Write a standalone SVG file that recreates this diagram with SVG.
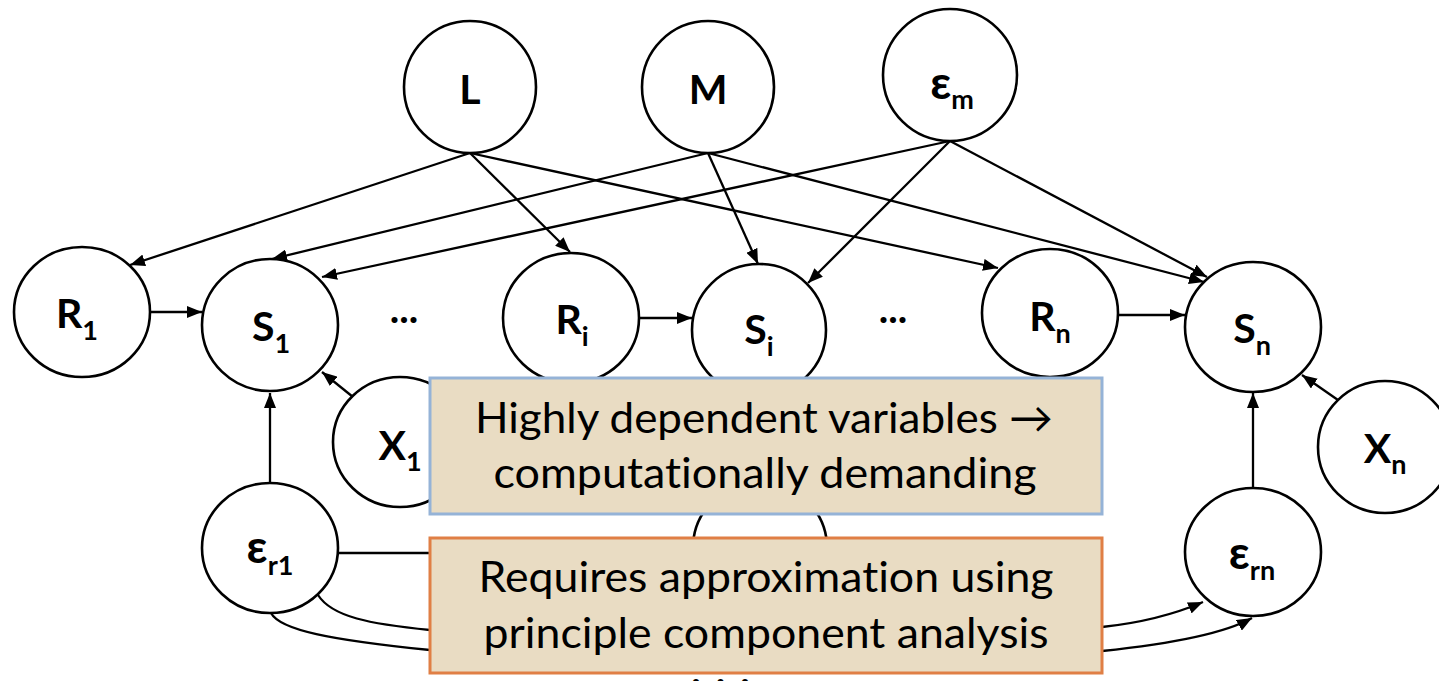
<svg xmlns="http://www.w3.org/2000/svg" width="1439" height="681" viewBox="0 0 1439 681">
  <style>
    .node ellipse { fill: #ffffff; stroke: #000000; stroke-width: 2.6; }
    .lbl { font-family: Lato, "Noto Sans", "DejaVu Sans", sans-serif; font-weight: 700; font-size: 41px; fill: #000000; text-anchor: middle; }
    .sub { font-size: 27px; }
    .eps { font-size: 46px; }
    .edge { fill: none; stroke: #000000; stroke-width: 2.3; }
    .arr { marker-end: url(#ah); }
    .box { fill: #E9DCC3; stroke-width: 3; }
    .boxtxt { font-family: Lato, "Noto Sans", "DejaVu Sans", sans-serif; font-size: 43px; fill: #000000; text-anchor: middle; font-variant-ligatures: none; }
    .dots { font-family: Lato, "Noto Sans", "DejaVu Sans", sans-serif; font-weight: 700; font-size: 40px; fill: #000000; }
  </style>
  <defs>
    <marker id="ah" markerWidth="15" markerHeight="12" refX="15" refY="6" orient="auto" markerUnits="userSpaceOnUse">
      <path d="M0,0 L15,6 L0,12 z" fill="#000000"/>
    </marker>
  </defs>

  <rect width="1439" height="681" fill="#ffffff"/>

  <!-- connectors -->
  <g id="connectors">
    <line class="edge arr" x1="470" y1="153" x2="130" y2="265"/>
    <line class="edge arr" x1="470" y1="153" x2="570" y2="252"/>
    <line class="edge arr" x1="470" y1="153" x2="998" y2="268"/>
    <line class="edge arr" x1="708" y1="153" x2="272" y2="259"/>
    <line class="edge arr" x1="708" y1="153" x2="758" y2="264"/>
    <line class="edge arr" x1="708" y1="153" x2="1204" y2="282"/>
    <line class="edge arr" x1="950" y1="141" x2="322" y2="277"/>
    <line class="edge arr" x1="950" y1="141" x2="808" y2="283"/>
    <line class="edge arr" x1="950" y1="141" x2="1207" y2="277"/>
    <line class="edge arr" x1="150" y1="312" x2="202" y2="312"/>
    <line class="edge arr" x1="639" y1="318" x2="692" y2="318"/>
    <line class="edge arr" x1="1118" y1="315" x2="1185" y2="315"/>
    <line class="edge arr" x1="353" y1="397" x2="322" y2="372"/>
    <line class="edge arr" x1="1338" y1="400" x2="1302" y2="375"/>
    <line class="edge arr" x1="270" y1="483" x2="270" y2="393"/>
    <line class="edge arr" x1="1253" y1="488" x2="1253" y2="393"/>
    <line class="edge arr" x1="338" y1="553" x2="693" y2="553"/>
    <path class="edge arr" d="M318,595 C332,617 370,624 430,630 C600,648 930,645 1102,627 C1140,623 1175,614 1203,602"/>
    <path class="edge arr" d="M271,613 C280,630 330,640 430,650 C600,668 930,668 1102,651 C1160,645 1220,636 1252,618"/>
  </g>

  <!-- top row -->
  <g id="node-L" class="node">
    <ellipse cx="470" cy="87" rx="66" ry="66"/>
    <text class="lbl" x="470" y="104">L</text>
  </g>
  <g id="node-M" class="node">
    <ellipse cx="708" cy="87" rx="66" ry="66"/>
    <text class="lbl" x="708" y="104">M</text>
  </g>
  <g id="node-em" class="node">
    <ellipse cx="950" cy="75" rx="67" ry="66"/>
    <text class="lbl" x="952" y="99"><tspan class="eps">ε</tspan><tspan class="sub" dy="10">m</tspan></text>
  </g>

  <!-- middle row -->
  <g id="node-R1" class="node">
    <ellipse cx="82" cy="312" rx="68" ry="65"/>
    <text class="lbl" x="77" y="328">R<tspan class="sub" dy="12">1</tspan></text>
  </g>
  <g id="node-S1" class="node">
    <ellipse cx="270" cy="325" rx="68" ry="66"/>
    <text class="lbl" x="271" y="341">S<tspan class="sub" dy="12">1</tspan></text>
  </g>
  <g id="dots-1">
    <text class="dots" x="404" y="323" text-anchor="middle">...</text>
  </g>
  <g id="node-Ri" class="node">
    <ellipse cx="571" cy="318" rx="68" ry="65"/>
    <text class="lbl" x="572" y="334">R<tspan class="sub" dy="12">i</tspan></text>
  </g>
  <g id="node-Si" class="node">
    <ellipse cx="759" cy="330" rx="67" ry="66"/>
    <text class="lbl" x="759" y="344">S<tspan class="sub" dy="12">i</tspan></text>
  </g>
  <g id="dots-2">
    <text class="dots" x="893" y="323" text-anchor="middle">...</text>
  </g>
  <g id="node-Rn" class="node">
    <ellipse cx="1050" cy="313" rx="68" ry="64"/>
    <text class="lbl" x="1050" y="331">R<tspan class="sub" dy="12">n</tspan></text>
  </g>
  <g id="node-Sn" class="node">
    <ellipse cx="1253" cy="327" rx="68" ry="65"/>
    <text class="lbl" x="1252" y="343">S<tspan class="sub" dy="12">n</tspan></text>
  </g>

  <!-- lower row -->
  <g id="node-X1" class="node">
    <ellipse cx="400" cy="442" rx="67" ry="65"/>
    <text class="lbl" x="400" y="460">X<tspan class="sub" dy="11">1</tspan></text>
  </g>
  <g id="node-Xn" class="node">
    <ellipse cx="1385" cy="447" rx="67" ry="66"/>
    <text class="lbl" x="1385" y="463">X<tspan class="sub" dy="11">n</tspan></text>
  </g>
  <g id="node-er1" class="node">
    <ellipse cx="270" cy="548" rx="68" ry="65"/>
    <text class="lbl" x="270" y="563"><tspan class="eps">ε</tspan><tspan class="sub" dy="12">r1</tspan></text>
  </g>
  <g id="node-eri" class="node">
    <ellipse cx="760" cy="548" rx="67" ry="66"/>
  </g>
  <g id="node-ern" class="node">
    <ellipse cx="1253" cy="552" rx="68" ry="64"/>
    <text class="lbl" x="1252" y="569"><tspan class="eps">ε</tspan><tspan class="sub" dy="11">rn</tspan></text>
  </g>
  <g id="dots-3">
    <text class="dots" x="728" y="685" text-anchor="middle" letter-spacing="15">...</text>
  </g>

  <!-- callout boxes -->
  <g id="note-dependent">
    <rect class="box" x="430" y="378" width="672" height="136" stroke="#95B3D7"/>
    <text class="boxtxt" x="764" y="433" textLength="578" lengthAdjust="spacingAndGlyphs">Highly dependent variables →</text>
    <text class="boxtxt" x="765" y="488" textLength="543" lengthAdjust="spacingAndGlyphs">computationally demanding</text>
  </g>
  <g id="note-approx">
    <rect class="box" x="430" y="538" width="672" height="135" stroke="#E07F45"/>
    <text class="boxtxt" x="766" y="592" textLength="575" lengthAdjust="spacingAndGlyphs">Requires approximation using</text>
    <text class="boxtxt" x="766" y="648" textLength="565" lengthAdjust="spacingAndGlyphs">principle component analysis</text>
  </g>
</svg>
